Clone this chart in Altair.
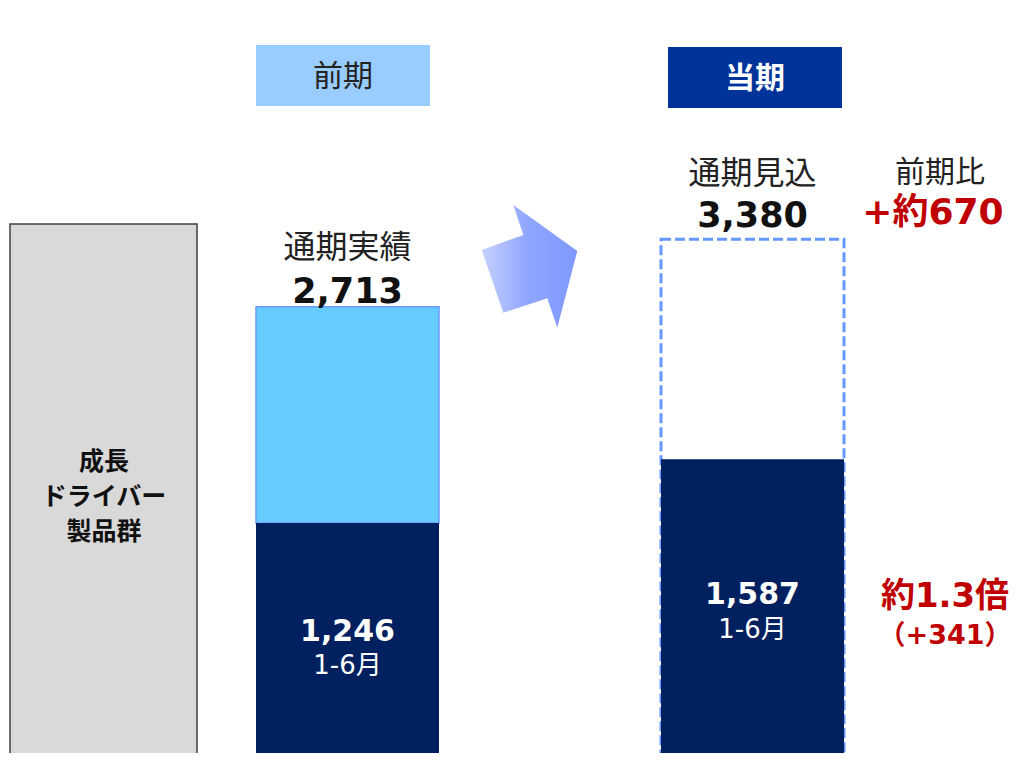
import altair as alt
import pandas as pd

# ---------------- data ----------------
periods = ["前期", "当期"]
total_labels = ["通期実績", "通期見込"]
total_values = [2713, 3380]
half_values = [1246, 1587]
half_label = "1-6月"
left_label_lines = ["成長", "ドライバー", "製品群"]
yoy_title = "前期比"
yoy_value = "+約670"
half_ratio = "約1.3倍"
half_diff = "（+341）"

# ---------------- layout / style ----------------
W, H = 1004, 745
Y_MIN, Y_MAX = 461, 6695          # schematic (non-linear) value axis
Y_EXT = 300                        # below the visible bottom, so bars run off the edge
NAVY = "#002060"
LIGHT = "#66CCFF"
RED = "#C00000"
CJK = "Noto Sans CJK JP"
NUM = "DejaVu Sans, Noto Sans CJK JP"

bar_x = {"前期": (248, 431), "当期": (653, 836)}
# per-bar text offsets (px) relative to the value positions
dy_total_num = {"前期": -15, "当期": -23}
dy_total_lbl = {"前期": -59, "当期": -65}
dy_half_num = {"前期": 109, "当期": 136}
dy_half_lbl = {"前期": 143, "当期": 171}

df = pd.DataFrame({
    "period": periods,
    "total_label": total_labels,
    "total": total_values,
    "half": half_values,
})
df["base"] = Y_EXT
df["x0"] = [bar_x[p][0] for p in periods]
df["x1"] = [bar_x[p][1] for p in periods]
df["xc"] = (df["x0"] + df["x1"]) / 2
df["total_txt"] = [f"{v:,}" for v in total_values]
df["half_txt"] = [f"{v:,}" for v in half_values]
df["half_lbl"] = half_label

xs = alt.Scale(domain=[0, W], nice=False, zero=False)
ys = alt.Scale(type="pow", exponent=0.2, domain=[Y_MIN, Y_MAX], range=[H + 1.5, 1.5],
               nice=False, zero=False)

base = alt.Chart(df)


def X(f):
    return alt.X(f"{f}:Q", scale=xs, axis=None)


def Y(f):
    return alt.Y(f"{f}:Q", scale=ys, axis=None)


layers = []

# left category box
layers.append(
    alt.Chart(pd.DataFrame({"t": [0]})).mark_rect(fill="#D9D9D9", stroke="#404040", strokeWidth=1.5)
    .encode(x=alt.value(2), x2=alt.value(189), y=alt.value(216), y2=alt.value(H + 10))
)
for i, line in enumerate(left_label_lines):
    layers.append(
        alt.Chart(pd.DataFrame({"t": [line]})).mark_text(
            font=CJK, fontSize=25, fontWeight="bold", color="#111111", baseline="middle")
        .encode(x=alt.value(96), y=alt.value(454 + 35 * i), text="t:N")
    )

# header boxes
layers.append(
    alt.Chart(pd.DataFrame({"t": [0]})).mark_rect(fill="#99CCFF")
    .encode(x=alt.value(248), x2=alt.value(422), y=alt.value(37), y2=alt.value(98))
)
layers.append(
    alt.Chart(pd.DataFrame({"t": [periods[0]]})).mark_text(
        font=CJK, fontSize=30, color="#222222", baseline="middle")
    .encode(x=alt.value(335), y=alt.value(69), text="t:N")
)
layers.append(
    alt.Chart(pd.DataFrame({"t": [0]})).mark_rect(fill="#003399")
    .encode(x=alt.value(660), x2=alt.value(834), y=alt.value(39), y2=alt.value(100))
)
layers.append(
    alt.Chart(pd.DataFrame({"t": [periods[1]]})).mark_text(
        font=CJK, fontSize=30, fontWeight="bold", color="white", baseline="middle")
    .encode(x=alt.value(747), y=alt.value(71), text="t:N")
)

prev = base.transform_filter(alt.datum.period == periods[0])
cur = base.transform_filter(alt.datum.period == periods[1])

# previous period: second half (light blue)
layers.append(
    prev.mark_rect(fill=LIGHT, stroke="#6E9BFF", strokeWidth=1.5)
    .encode(x=X("x0"), x2="x1", y=Y("total"), y2="half")
)
# current period: dashed forecast outline
layers.append(
    cur.mark_rect(fill="white", fillOpacity=0, stroke="#6699FF", strokeWidth=3, strokeDash=[10, 4])
    .encode(x=X("x0"), x2="x1", y=Y("total"), y2="base")
)
# first half bars (navy)
layers.append(
    base.mark_rect(fill=NAVY)
    .encode(x=X("x0"), x2="x1", y=Y("half"), y2="base")
)

# texts per bar
for p, sub in ((periods[0], prev), (periods[1], cur)):
    layers.append(
        sub.mark_text(font=CJK, fontSize=32, color="#222222", baseline="middle", dy=dy_total_lbl[p])
        .encode(x=X("xc"), y=Y("total"), text="total_label:N")
    )
    layers.append(
        sub.mark_text(font=NUM, fontSize=35, fontWeight="bold", color="#111111", baseline="middle",
                      dy=dy_total_num[p])
        .encode(x=X("xc"), y=Y("total"), text="total_txt:N")
    )
    layers.append(
        sub.mark_text(font=NUM, fontSize=30, fontWeight="bold", color="white", baseline="middle",
                      dy=dy_half_num[p])
        .encode(x=X("xc"), y=Y("half"), text="half_txt:N")
    )
    layers.append(
        sub.mark_text(font=NUM, fontSize=26, color="white", baseline="middle", dy=dy_half_lbl[p])
        .encode(x=X("xc"), y=Y("half"), text="half_lbl:N")
    )

# right-side annotations
for txt, x, y, size, bold, color in [
    (yoy_title, 932, 165, 30, False, "#222222"),
    (yoy_value, 925, 205, 36, True, RED),
    (half_ratio, 937, 589, 34, True, RED),
    (half_diff, 937, 628, 27, True, RED),
]:
    layers.append(
        alt.Chart(pd.DataFrame({"t": [txt]})).mark_text(
            font=NUM, fontSize=size, fontWeight="bold" if bold else "normal", color=color,
            baseline="middle")
        .encode(x=alt.value(x), y=alt.value(y), text="t:N")
    )

# gradient arrow
arrow_path = ("M-0.779,-0.266L-0.101,-0.510L-0.264,-1L0.779,-0.249"
              "L0.453,1L0.290,0.522L-0.427,0.756Z")
grad = alt.LinearGradient(
    gradient="linear", x1=0, y1=0, x2=1, y2=0,
    stops=[alt.GradientStop(color="#C6D0FF", offset=0),
           alt.GradientStop(color="#8EA5FF", offset=0.5),
           alt.GradientStop(color="#7E98FF", offset=1)],
)
layers.append(
    alt.Chart(pd.DataFrame({"t": [0]})).mark_point(
        shape=arrow_path, size=15055, filled=True, fill=grad, opacity=1, strokeWidth=0)
    .encode(x=alt.value(521.5), y=alt.value(258.3))
)

chart = alt.layer(*layers).properties(
    width=W, height=H,
    autosize=alt.AutoSizeParams(type="fit", contains="padding"),
    padding=0,
).configure_view(stroke=None)

chart.save("out.html", embed_options={"renderer": "svg", "actions": False})
